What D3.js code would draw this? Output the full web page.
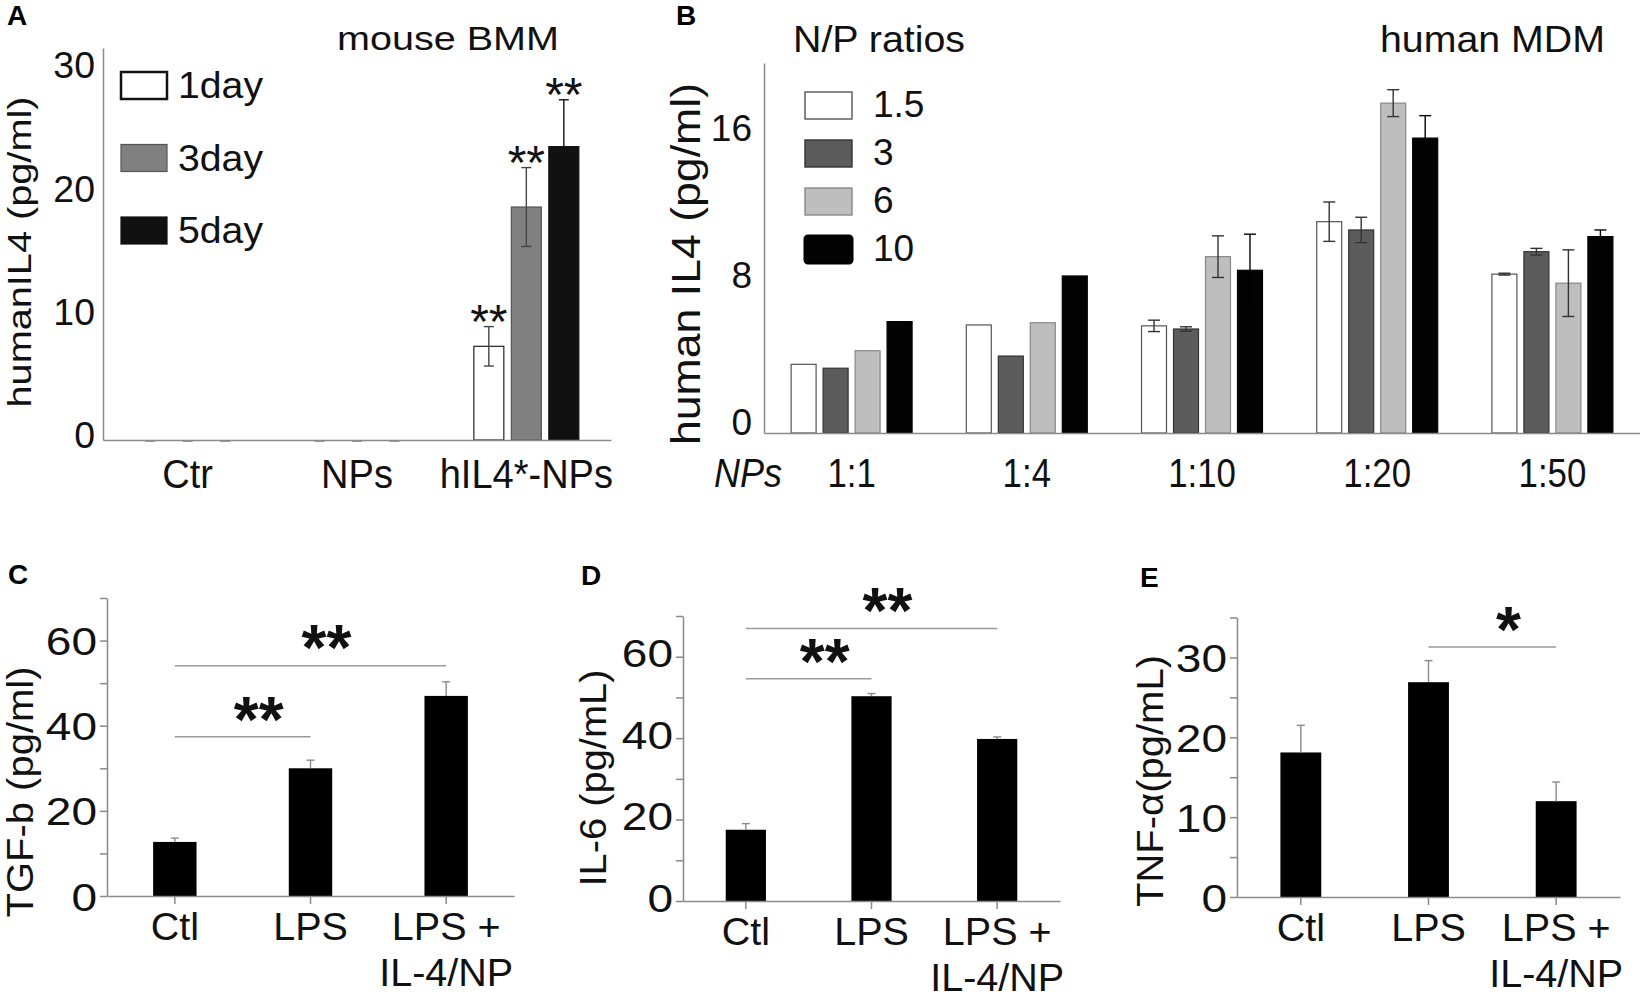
<!DOCTYPE html>
<html>
<head>
<meta charset="utf-8">
<script src="https://cdn.jsdelivr.net/npm/d3@7"></script>
<style>
body { margin: 0; background: #fff; }
svg { display: block; }
.panel-letter { font-size: 28px; font-weight: bold; }
</style>
</head>
<body>
<svg id="fig" width="1640" height="998"></svg>
<script>
// ---- values ----

// A: mouse BMM, human IL4 (pg/ml) after 1/3/5 days
var aGroups = ["Ctr", "NPs", "hIL4*-NPs"];
var aDays = ["1day", "3day", "5day"];
var aMeans = [[0, 0, 0], [0, 0, 0], [7.6, 18.9, 23.8]];
var aErrs = [[0, 0, 0], [0, 0, 0], [1.6, 3.2, 3.8]];
var aStars = [["", "", ""], ["", "", ""], ["**", "**", "**"]];
var aTicks = [0, 10, 20, 30];

// B: human MDM, human IL4 (pg/ml) by NP dose and N/P ratio
var bGroups = ["1:1", "1:4", "1:10", "1:20", "1:50"];
var bRatios = ["1.5", "3", "6", "10"];
var bMeans = [
	[3.73, 3.52, 4.47, 6.05],
	[5.87, 4.18, 5.99, 8.53],
	[5.82, 5.65, 9.58, 8.84],
	[11.48, 11.03, 17.92, 16.02],
	[8.63, 9.85, 8.14, 10.67]
];
var bErrs = [
	[0, 0, 0, 0],
	[0, 0, 0, 0],
	[0.31, 0.12, 1.13, 1.96],
	[1.07, 0.69, 0.73, 1.22],
	[0.05, 0.18, 1.81, 0.36]
];
var bTicks = [0, 8, 16];

// C-E: cytokines after treatment
var treatGroups = ["Ctl", "LPS", "LPS +\nIL-4/NP"];
var tgfMeans = [12.7, 30.0, 47.0];
var tgfErrs = [0.9, 1.9, 3.3];
var il6Means = [17.5, 50.3, 39.8];
var il6Errs = [1.5, 0.65, 0.5];
var tnfMeans = [18.1, 26.9, 12.0];
var tnfErrs = [3.4, 2.7, 2.4];
// significance brackets: [from group, to group, bracket level, mark]
var tgfSig = [[0, 1, 37.4, "**"], [0, 2, 54.1, "**"]];
var il6Sig = [[0, 1, 54.6, "**"], [0, 2, 66.9, "**"]];
var tnfSig = [[1, 2, 31.3, "*"]];

var FONT = '"Liberation Sans", Arial, Helvetica, sans-serif';
var AXIS = "#8a8a8a";
var svg = d3.select("#fig").attr("font-family", FONT);

//stretch or squeeze text sideways, the figure's lettering is not true to the font
function widen(sel, k) {
	sel.each(function() {
		var w = this.getComputedTextLength();
		d3.select(this).attr("textLength", w * k).attr("lengthAdjust", "spacingAndGlyphs");
	});
}

function text(x, y, str, size, opt) {
	opt = opt || {};
	var t = svg.append("text")
		.attr("x", x).attr("y", y)
		.attr("font-size", size)
		.attr("fill", "#111")
		.attr("text-anchor", opt.anchor || "start")
		.attr("font-style", opt.italic ? "italic" : null)
		.text(str);
	if (opt.len) t.attr("textLength", opt.len).attr("lengthAdjust", "spacingAndGlyphs");
	return t;
}

function letter(x, y, str) {
	svg.append("text")
		.attr("class", "panel-letter")
		.attr("x", x).attr("y", y)
		.style("font-size", "28px")
		.style("font-weight", "700")
		.attr("fill", "#000")
		.text(str);
}

function yTitle(x, y, str, size, len) {
	svg.append("text")
		.attr("transform", "translate(" + x + "," + y + ") rotate(-90)")
		.attr("text-anchor", "middle")
		.attr("font-size", size)
		.attr("fill", "#111")
		.attr("textLength", len)
		.attr("lengthAdjust", "spacingAndGlyphs")
		.text(str);
}

function styleAxis(g, size) {
	g.select(".domain").attr("stroke", AXIS).attr("stroke-width", 1.5);
	g.selectAll(".tick line").attr("stroke", AXIS).attr("stroke-width", 1.5);
	g.selectAll("text").attr("font-size", size).attr("font-family", FONT).attr("fill", "#111");
}

// color may be a function of the row, so the whisker hides inside dark bars
function errBars(data, xf, y, cap, color, upOnly) {
	var g = svg.append("g").attr("stroke-width", 1.4);
	data.forEach(function(d) {
		if (!d.e) return;
		var c = typeof color === "function" ? color(d) : color;
		var cx = xf(d), lo = upOnly ? y(d.v) : y(d.v - d.e), hi = y(d.v + d.e);
		g.append("line").attr("stroke", c).attr("x1", cx).attr("x2", cx).attr("y1", lo).attr("y2", hi);
		g.append("line").attr("stroke", c).attr("x1", cx - cap / 2).attr("x2", cx + cap / 2).attr("y1", hi).attr("y2", hi);
		if (!upOnly) g.append("line").attr("stroke", c).attr("x1", cx - cap / 2).attr("x2", cx + cap / 2).attr("y1", lo).attr("y2", lo);
	});
}

// ================= Panel A =================
(function() {
	var y = d3.scaleLinear().domain([0, 31.8]).range([440, 48]);
	var x = d3.scaleBand().domain(aGroups).range([103, 611]);
	var inner = d3.scaleBand().domain(aDays).range([-56.25, 56.25]).paddingInner(0.2).paddingOuter(0.1);
	var fill = d3.scaleOrdinal().domain(aDays).range(["#ffffff", "#808080", "#111111"]);
	var edge = d3.scaleOrdinal().domain(aDays).range(["#222", "#555", "#111"]);

	var rows = [];
	aGroups.forEach(function(g, i) {
		aDays.forEach(function(d, j) {
			rows.push({g: g, s: d, v: aMeans[i][j], e: aErrs[i][j], star: aStars[i][j]});
		});
	});
	var cx = function(d) { return x(d.g) + x.bandwidth() / 2 + inner(d.s) + inner.bandwidth() / 2; };

	svg.append("g").selectAll("rect")
		.data(rows.filter(function(d) { return d.v > 0; }))
		.enter().append("rect")
		.attr("x", function(d) { return x(d.g) + x.bandwidth() / 2 + inner(d.s); })
		.attr("y", function(d) { return y(d.v); })
		.attr("width", inner.bandwidth())
		.attr("height", function(d) { return y(0) - y(d.v); })
		.attr("fill", function(d) { return fill(d.s); })
		.attr("stroke", function(d) { return edge(d.s); })
		.attr("stroke-width", 1.2);

	// zero-height groups show as short grey dashes on the axis
	svg.append("g").selectAll("line")
		.data(rows.filter(function(d) { return d.v === 0; }))
		.enter().append("line")
		.attr("x1", function(d) { return cx(d) - 5; })
		.attr("x2", function(d) { return cx(d) + 5; })
		.attr("y1", y(0) + 1).attr("y2", y(0) + 1)
		.attr("stroke", "#9a9a9a").attr("stroke-width", 2);

	errBars(rows, cx, y, 10, function(d) { return d.s === "5day" ? "#111" : "#444"; }, false);

	var sf = 48;
	svg.append("g").selectAll("text")
		.data(rows.filter(function(d) { return d.star; }))
		.enter().append("text")
		.attr("x", cx)
		.attr("y", function(d) { return y(d.v + d.e) - 16 + 0.575 * sf; })
		.attr("text-anchor", "middle")
		.attr("font-size", sf)
		.attr("fill", "#111")
		.text(function(d) { return d.star; });

	var gy = svg.append("g").attr("transform", "translate(103,0)")
		.call(d3.axisLeft(y).tickValues(aTicks).tickSize(0).tickSizeOuter(0).tickPadding(8));
	styleAxis(gy, 36);
	gy.selectAll("text").attr("y", -5).attr("dy", "0.35em");
	widen(gy.selectAll("text"), 1.04);

	var gx = svg.append("g").attr("transform", "translate(0,440)")
		.call(d3.axisBottom(x).tickSize(0).tickSizeOuter(0));
	styleAxis(gx, 40);
	gx.selectAll("text").attr("y", 48).attr("dy", 0);
	widen(gx.selectAll("text"), 0.95);

	// legend
	var lg = svg.append("g").selectAll("g").data(aDays).enter().append("g")
		.attr("transform", function(d, i) { return "translate(121," + (72 + i * 72.5) + ")"; });
	lg.append("rect").attr("width", 46).attr("height", 27)
		.attr("fill", fill)
		.attr("stroke", function(d, i) { return i === 0 ? "#111" : edge(d); })
		.attr("stroke-width", function(d, i) { return i === 0 ? 2.5 : 1.2; });
	lg.append("text").attr("x", 57).attr("y", 26).attr("font-size", 37).attr("fill", "#111")
		.text(function(d) { return d; });
	widen(lg.selectAll("text"), 1.06);

	letter(7, 25, "A");
	text(337, 50, "mouse BMM", 34, {len: 222});
	yTitle(31, 252, "humanIL4  (pg/ml)", 34, 311);
})();

// ================= Panel B =================
(function() {
	var y = d3.scaleLinear().domain([0, 20.1]).range([433, 63]);
	var x = d3.scaleBand().domain(bGroups).range([764, 1640]);
	var inner = d3.scaleBand().domain(bRatios).range([-64, 64]).paddingInner(0.219).paddingOuter(0.11);
	var fill = d3.scaleOrdinal().domain(bRatios).range(["#ffffff", "#5c5c5c", "#bebebe", "#030303"]);
	var edge = d3.scaleOrdinal().domain(bRatios).range(["#555", "#333", "#888", "#000"]);

	var rows = [];
	bGroups.forEach(function(g, i) {
		bRatios.forEach(function(r, j) {
			rows.push({g: g, s: r, v: bMeans[i][j], e: bErrs[i][j]});
		});
	});
	var cx = function(d) { return x(d.g) + x.bandwidth() / 2 + inner(d.s) + inner.bandwidth() / 2; };

	svg.append("g").selectAll("rect")
		.data(rows)
		.enter().append("rect")
		.attr("x", function(d) { return x(d.g) + x.bandwidth() / 2 + inner(d.s); })
		.attr("y", function(d) { return y(d.v); })
		.attr("width", inner.bandwidth())
		.attr("height", function(d) { return y(0) - y(d.v); })
		.attr("fill", function(d) { return fill(d.s); })
		.attr("stroke", function(d) { return edge(d.s); })
		.attr("stroke-width", 1.2);

	errBars(rows, cx, y, 12, function(d) { return d.s === "10" ? "#030303" : "#333"; }, false);

	var gy = svg.append("g").attr("transform", "translate(764,0)")
		.call(d3.axisLeft(y).tickValues(bTicks).tickSize(0).tickSizeOuter(0).tickPadding(12));
	styleAxis(gy, 37);
	gy.selectAll("text").attr("y", -11).attr("dy", "0.35em");

	var gx = svg.append("g").attr("transform", "translate(0,433)")
		.call(d3.axisBottom(x).tickSize(0).tickSizeOuter(0));
	styleAxis(gx, 40);
	gx.selectAll("text").attr("y", 54).attr("dy", 0);
	widen(gx.selectAll("text"), 0.87);
	text(714, 487, "NPs", 40, {italic: true, len: 68});

	var lg = svg.append("g").selectAll("g").data(bRatios).enter().append("g")
		.attr("transform", function(d, i) { return "translate(805," + (92 + i * 48) + ")"; });
	lg.append("rect").attr("width", 47).attr("height", 27).attr("rx", function(d, i) { return i === 3 ? 3 : 0; })
		.attr("fill", fill)
		.attr("stroke", function(d, i) { return i === 3 ? "#000" : edge(d); })
		.attr("stroke-width", function(d, i) { return i === 3 ? 3 : 1.4; });
	lg.append("text").attr("x", 68).attr("y", 25).attr("font-size", 37).attr("fill", "#111")
		.text(function(d) { return d; });

	letter(676, 25, "B");
	text(793, 52, "N/P ratios", 37, {len: 172});
	text(1380, 52, "human MDM", 36, {len: 225});
	yTitle(700, 264, "human IL4  (pg/ml)", 40, 362);
})();

// ================= Panels C-E =================
function treatPanel(cfg) {
	var y = d3.scaleLinear().domain([0, cfg.max]).range([cfg.y0, cfg.y1]);
	var x = d3.scaleBand().domain(treatGroups).range([cfg.x0, cfg.x1]).paddingInner(0.68).paddingOuter(0.34);
	var rows = treatGroups.map(function(g, i) { return {g: g, v: cfg.means[i], e: cfg.errs[i]}; });
	var cx = function(d) { return x(d.g) + x.bandwidth() / 2; };

	svg.append("g").selectAll("rect")
		.data(rows)
		.enter().append("rect")
		.attr("x", function(d) { return x(d.g); })
		.attr("y", function(d) { return y(d.v); })
		.attr("width", x.bandwidth())
		.attr("height", function(d) { return y(0) - y(d.v); })
		.attr("fill", "#000");

	errBars(rows, cx, y, 8, "#8a8a8a", true);

	var gy = svg.append("g").attr("transform", "translate(" + cfg.x0 + ",0)")
		.call(d3.axisLeft(y)
			.tickValues(d3.range(0, cfg.max + 0.001, cfg.step))
			.tickFormat(function(d) { return d % cfg.labelEvery === 0 ? d : ""; })
			.tickSize(7).tickSizeOuter(0).tickPadding(3));
	styleAxis(gy, 39);
	gy.selectAll("text").attr("y", cfg.labelShift || 0).attr("dy", "0.36em");
	widen(gy.selectAll("text").filter(function() { return this.textContent !== ""; }), 1.18);

	var gx = svg.append("g").attr("transform", "translate(0," + cfg.y0 + ")")
		.call(d3.axisBottom(x).tickSize(8).tickSizeOuter(0));
	styleAxis(gx, 38);
	gx.selectAll(".tick text").each(function(d) {
		var t = d3.select(this).text(null).attr("dy", 0);
		d.split("\n").forEach(function(line, i) {
			t.append("tspan").attr("x", 0).attr("y", 44 + i * 46).text(line);
		});
	});
	widen(gx.selectAll("tspan"), 1.04);

	// significance brackets
	var sf = 64;
	var mid = function(s) { return (cx(rows[s[0]]) + cx(rows[s[1]])) / 2; };
	svg.append("g").selectAll("line")
		.data(cfg.sig)
		.enter().append("line")
		.attr("x1", function(s) { return cx(rows[s[0]]); })
		.attr("x2", function(s) { return cx(rows[s[1]]); })
		.attr("y1", function(s) { return y(s[2]); })
		.attr("y2", function(s) { return y(s[2]); })
		.attr("stroke", "#9a9a9a").attr("stroke-width", 1.5);
	svg.append("g").selectAll("text")
		.data(cfg.sig)
		.enter().append("text")
		.attr("x", function(s) { return mid(s) + 16; })
		.attr("y", function(s) { return y(s[2]) - 32 + 0.575 * sf; })
		.attr("text-anchor", "middle")
		.attr("font-size", sf)
		.attr("font-weight", "bold")
		.attr("fill", "#111")
		.text(function(s) { return s[3]; });

	letter(cfg.letterX, cfg.letterY, cfg.letter);
	yTitle(cfg.titleX, cfg.titleY, cfg.title, cfg.titleSize, cfg.titleLen);
}

treatPanel({means: tgfMeans, errs: tgfErrs, sig: tgfSig, max: 70, step: 10, labelEvery: 20,
	x0: 107, x1: 514, y0: 896, y1: 598,
	letter: "C", letterX: 8, letterY: 584,
	title: "TGF-b (pg/ml)", titleX: 33, titleY: 792, titleSize: 36, titleLen: 251});

treatPanel({means: il6Means, errs: il6Errs, sig: il6Sig, max: 70, step: 10, labelEvery: 20,
	x0: 683, x1: 1060, y0: 901, y1: 616, labelShift: -4,
	letter: "D", letterX: 581, letterY: 585,
	title: "IL-6 (pg/mL)", titleX: 606, titleY: 778, titleSize: 37, titleLen: 217});

treatPanel({means: tnfMeans, errs: tnfErrs, sig: tnfSig, max: 35, step: 5, labelEvery: 10,
	x0: 1237, x1: 1620, y0: 897, y1: 617.5,
	letter: "E", letterX: 1140, letterY: 587,
	title: "TNF-\u03b1(pg/mL)", titleX: 1163, titleY: 781, titleSize: 37, titleLen: 252});
</script>
</body>
</html>
